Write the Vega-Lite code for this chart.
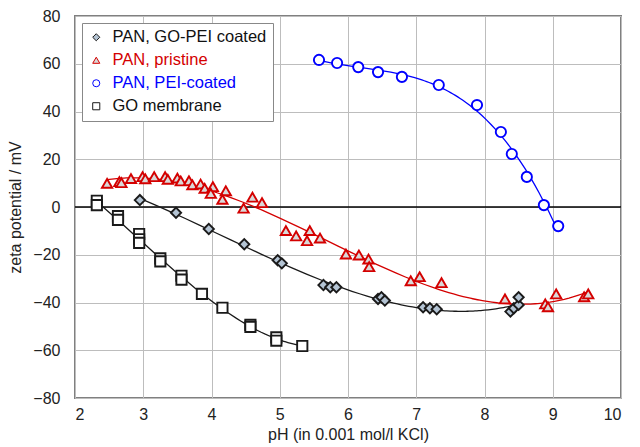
{
  "$schema": "https://vega.github.io/schema/vega-lite/v6.json",
  "width": 546,
  "height": 382,
  "autosize": "none",
  "padding": {"left": 75, "top": 16, "right": 19, "bottom": 49},
  "background": "white",
  "config": {
    "font": "Liberation Sans",
    "view": {"stroke": "#808080", "strokeWidth": 2},
    "axis": {
      "grid": true, "gridColor": "#bdbdbd", "gridWidth": 1, "domain": false, "ticks": false,
      "labelFontSize": 16, "labelColor": "#222", "titleFontSize": 16, "titleFontWeight": "normal", "titleColor": "#222"
    }
  },
  "datasets": {
    "points": [
      {"series": "PAN, GO-PEI coated", "pH": 2.95, "zeta": 2.9},
      {"series": "PAN, GO-PEI coated", "pH": 3.48, "zeta": -2.4},
      {"series": "PAN, GO-PEI coated", "pH": 3.96, "zeta": -9.2},
      {"series": "PAN, GO-PEI coated", "pH": 4.48, "zeta": -15.6},
      {"series": "PAN, GO-PEI coated", "pH": 4.97, "zeta": -22.3},
      {"series": "PAN, GO-PEI coated", "pH": 5.03, "zeta": -23.6},
      {"series": "PAN, GO-PEI coated", "pH": 5.64, "zeta": -32.7},
      {"series": "PAN, GO-PEI coated", "pH": 5.74, "zeta": -33.6},
      {"series": "PAN, GO-PEI coated", "pH": 5.83, "zeta": -33.6},
      {"series": "PAN, GO-PEI coated", "pH": 6.44, "zeta": -38.5},
      {"series": "PAN, GO-PEI coated", "pH": 6.49, "zeta": -37.8},
      {"series": "PAN, GO-PEI coated", "pH": 6.54, "zeta": -39.2},
      {"series": "PAN, GO-PEI coated", "pH": 7.10, "zeta": -42.0},
      {"series": "PAN, GO-PEI coated", "pH": 7.20, "zeta": -42.4},
      {"series": "PAN, GO-PEI coated", "pH": 7.30, "zeta": -42.8},
      {"series": "PAN, GO-PEI coated", "pH": 8.38, "zeta": -43.8},
      {"series": "PAN, GO-PEI coated", "pH": 8.43, "zeta": -42.4},
      {"series": "PAN, GO-PEI coated", "pH": 8.50, "zeta": -41.0},
      {"series": "PAN, GO-PEI coated", "pH": 8.50, "zeta": -37.8},
      {"series": "PAN, pristine", "pH": 2.47, "zeta": 9.9},
      {"series": "PAN, pristine", "pH": 2.65, "zeta": 10.6},
      {"series": "PAN, pristine", "pH": 2.68, "zeta": 10.2},
      {"series": "PAN, pristine", "pH": 2.82, "zeta": 11.9},
      {"series": "PAN, pristine", "pH": 2.99, "zeta": 12.7},
      {"series": "PAN, pristine", "pH": 3.03, "zeta": 11.8},
      {"series": "PAN, pristine", "pH": 3.16, "zeta": 12.7},
      {"series": "PAN, pristine", "pH": 3.32, "zeta": 12.7},
      {"series": "PAN, pristine", "pH": 3.36, "zeta": 11.6},
      {"series": "PAN, pristine", "pH": 3.50, "zeta": 12.1},
      {"series": "PAN, pristine", "pH": 3.55, "zeta": 10.9},
      {"series": "PAN, pristine", "pH": 3.67, "zeta": 11.0},
      {"series": "PAN, pristine", "pH": 3.72, "zeta": 9.3},
      {"series": "PAN, pristine", "pH": 3.84, "zeta": 9.6},
      {"series": "PAN, pristine", "pH": 3.90, "zeta": 7.8},
      {"series": "PAN, pristine", "pH": 4.02, "zeta": 8.5},
      {"series": "PAN, pristine", "pH": 3.99, "zeta": 5.7},
      {"series": "PAN, pristine", "pH": 4.21, "zeta": 6.8},
      {"series": "PAN, pristine", "pH": 4.16, "zeta": 3.2},
      {"series": "PAN, pristine", "pH": 4.47, "zeta": -0.5},
      {"series": "PAN, pristine", "pH": 4.60, "zeta": 4.1},
      {"series": "PAN, pristine", "pH": 4.74, "zeta": 1.8},
      {"series": "PAN, pristine", "pH": 5.09, "zeta": -9.9},
      {"series": "PAN, pristine", "pH": 5.24, "zeta": -12.1},
      {"series": "PAN, pristine", "pH": 5.40, "zeta": -14.1},
      {"series": "PAN, pristine", "pH": 5.44, "zeta": -9.9},
      {"series": "PAN, pristine", "pH": 5.59, "zeta": -13.0},
      {"series": "PAN, pristine", "pH": 5.97, "zeta": -19.7},
      {"series": "PAN, pristine", "pH": 6.16, "zeta": -20.1},
      {"series": "PAN, pristine", "pH": 6.30, "zeta": -21.8},
      {"series": "PAN, pristine", "pH": 6.31, "zeta": -25.0},
      {"series": "PAN, pristine", "pH": 6.92, "zeta": -30.9},
      {"series": "PAN, pristine", "pH": 7.05, "zeta": -29.2},
      {"series": "PAN, pristine", "pH": 7.37, "zeta": -31.7},
      {"series": "PAN, pristine", "pH": 8.30, "zeta": -38.5},
      {"series": "PAN, pristine", "pH": 8.89, "zeta": -40.6},
      {"series": "PAN, pristine", "pH": 8.93, "zeta": -41.8},
      {"series": "PAN, pristine", "pH": 9.05, "zeta": -36.4},
      {"series": "PAN, pristine", "pH": 9.46, "zeta": -37.6},
      {"series": "PAN, pristine", "pH": 9.52, "zeta": -36.4},
      {"series": "PAN, PEI-coated", "pH": 5.575, "zeta": 61.6},
      {"series": "PAN, PEI-coated", "pH": 5.84, "zeta": 60.3},
      {"series": "PAN, PEI-coated", "pH": 6.15, "zeta": 58.6},
      {"series": "PAN, PEI-coated", "pH": 6.44, "zeta": 56.5},
      {"series": "PAN, PEI-coated", "pH": 6.79, "zeta": 54.5},
      {"series": "PAN, PEI-coated", "pH": 7.33, "zeta": 51.1},
      {"series": "PAN, PEI-coated", "pH": 7.89, "zeta": 42.7},
      {"series": "PAN, PEI-coated", "pH": 8.24, "zeta": 31.4},
      {"series": "PAN, PEI-coated", "pH": 8.40, "zeta": 22.2},
      {"series": "PAN, PEI-coated", "pH": 8.62, "zeta": 12.6},
      {"series": "PAN, PEI-coated", "pH": 8.87, "zeta": 0.8},
      {"series": "PAN, PEI-coated", "pH": 9.08, "zeta": -8.0},
      {"series": "GO membrane", "pH": 2.32, "zeta": 2.6},
      {"series": "GO membrane", "pH": 2.32, "zeta": 0.8},
      {"series": "GO membrane", "pH": 2.63, "zeta": -3.8},
      {"series": "GO membrane", "pH": 2.63, "zeta": -5.4},
      {"series": "GO membrane", "pH": 2.94, "zeta": -11.3},
      {"series": "GO membrane", "pH": 2.94, "zeta": -13.5},
      {"series": "GO membrane", "pH": 2.94, "zeta": -15.0},
      {"series": "GO membrane", "pH": 3.25, "zeta": -21.5},
      {"series": "GO membrane", "pH": 3.25, "zeta": -22.8},
      {"series": "GO membrane", "pH": 3.56, "zeta": -28.8},
      {"series": "GO membrane", "pH": 3.56, "zeta": -30.4},
      {"series": "GO membrane", "pH": 3.86, "zeta": -36.4},
      {"series": "GO membrane", "pH": 4.16, "zeta": -42.2},
      {"series": "GO membrane", "pH": 4.57, "zeta": -49.4},
      {"series": "GO membrane", "pH": 4.57, "zeta": -50.2},
      {"series": "GO membrane", "pH": 4.95, "zeta": -54.6},
      {"series": "GO membrane", "pH": 4.95, "zeta": -56.0},
      {"series": "GO membrane", "pH": 5.33, "zeta": -58.2}
    ],
    "zero": [{"zeta": 0}]
  },
  "layer": [
    {
      "data": {"name": "zero"},
      "mark": {"type": "rule", "color": "black", "strokeWidth": 1.3},
      "encoding": {"y": {"field": "zeta", "type": "quantitative", "scale": {"domain": [-80, 80], "nice": false}}}
    },
    {
      "data": {"name": "points"},
      "transform": [
        {"regression": "zeta", "on": "pH", "groupby": ["series"], "method": "poly", "order": 3}
      ],
      "mark": {"type": "line", "strokeWidth": 1.3},
      "encoding": {
        "x": {"field": "pH", "type": "quantitative"},
        "y": {"field": "zeta", "type": "quantitative"},
        "detail": {"field": "series", "type": "nominal"},
        "stroke": {
          "condition": [
            {"test": "datum.series === 'PAN, pristine'", "value": "#d40000"},
            {"test": "datum.series === 'PAN, PEI-coated'", "value": "#0000ff"}
          ],
          "value": "#1a1a1a"
        }
      }
    },
    {
      "data": {"name": "points"},
      "mark": {"type": "point", "strokeWidth": 1.9, "size": 105, "opacity": 1},
      "encoding": {
        "x": {"field": "pH", "type": "quantitative",
          "scale": {"domain": [2, 10], "nice": false},
          "axis": {"values": [2, 3, 4, 5, 6, 7, 8, 9, 10], "format": "d", "title": "pH (in 0.001 mol/l KCl)", "labelPadding": 8, "titlePadding": 4}},
        "y": {"field": "zeta", "type": "quantitative",
          "scale": {"domain": [-80, 80], "nice": false},
          "axis": {"values": [-80, -60, -40, -20, 0, 20, 40, 60, 80], "title": "zeta potential / mV", "labelPadding": 15, "titlePadding": 9}},
        "stroke": {"field": "series", "type": "nominal",
          "scale": {"domain": ["PAN, GO-PEI coated", "PAN, pristine", "PAN, PEI-coated", "GO membrane"], "range": ["#1a1a1a", "#d40000", "#0000ff", "#1a1a1a"]},
          "legend": {
            "orient": "none", "legendX": 7, "legendY": 7, "title": null,
            "strokeColor": "#888888", "fillColor": "white", "padding": 6,
            "labelFontSize": 16.5, "symbolSize": 50, "rowPadding": 6, "labelOffset": 8, "symbolStrokeWidth": 1,
            "labelColor": {"expr": "datum.value === 'PAN, pristine' ? '#d40000' : datum.value === 'PAN, PEI-coated' ? '#0000ff' : '#111111'"}
          }},
        "fill": {"field": "series", "type": "nominal",
          "scale": {"domain": ["PAN, GO-PEI coated", "PAN, pristine", "PAN, PEI-coated", "GO membrane"], "range": ["#b4c4d4", "#d9d9d9", "#ffffff", "#ffffff"]}},
        "shape": {"field": "series", "type": "nominal",
          "scale": {"domain": ["PAN, GO-PEI coated", "PAN, pristine", "PAN, PEI-coated", "GO membrane"], "range": ["diamond", "triangle-up", "circle", "square"]}}
      }
    }
  ]
}
